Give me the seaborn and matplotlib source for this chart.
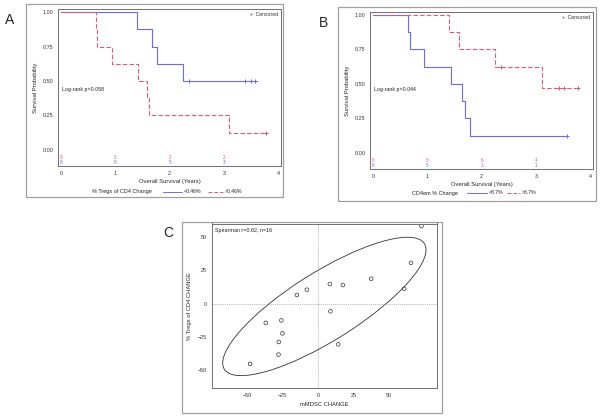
import numpy as np
import pandas as pd
import matplotlib
matplotlib.use("Agg")
import matplotlib.pyplot as plt
import seaborn as sns
from matplotlib.patches import Rectangle, Ellipse
from matplotlib.lines import Line2D

# ---- data -------------------------------------------------------------
# panel A: % Tregs of CD4 change
a_low_t = [0, 1.40, 1.68, 1.77, 2.24, 3.60]
a_low_s = [1.0, 0.875, 0.75, 0.625, 0.5, 0.5]
a_low_cens_t = [2.36, 3.39, 3.50, 3.58]
a_low_cens_s = [0.5, 0.5, 0.5, 0.5]
a_high_t = [0, 0.65, 0.67, 0.93, 1.41, 1.575, 1.62, 3.09, 3.78]
a_high_s = [1.0, 0.875, 0.75, 0.625, 0.5, 0.375, 0.25, 0.125, 0.125]
a_high_cens_t = [3.78]
a_high_cens_s = [0.125]
a_risk_low = [8, 8, 5, 3]
a_risk_high = [8, 5, 2, 2]

# panel B: CD4em % change
b_low_t = [0, 0.645, 0.675, 0.945, 1.435, 1.64, 1.69, 1.79, 3.58]
b_low_s = [1.0, 0.875, 0.75, 0.625, 0.5, 0.375, 0.25, 0.125, 0.125]
b_low_cens_t = [3.58]
b_low_cens_s = [0.125]
b_high_t = [0, 1.405, 1.577, 2.24, 3.11, 3.77]
b_high_s = [1.0, 0.875, 0.75, 0.625, 0.469, 0.469]
b_high_cens_t = [2.36, 3.42, 3.51, 3.77]
b_high_cens_s = [0.625, 0.469, 0.469, 0.469]
b_risk_low = [8, 5, 1, 1]
b_risk_high = [8, 8, 6, 4]

risk_times = [0, 1, 2, 3]

# panel C: mMDSC change vs % Tregs of CD4 change
c_x = [-48.1, -37.0, -26.0, -25.2, -27.8, -28.0, -15.0, -8.0,
       8.3, 17.5, 8.7, 14.2, 37.5, 60.8, 65.6, 73.0]
c_y = [-45.5, -14.5, -12.7, -22.5, -29.0, -38.5, 6.5, 10.5,
       14.75, 14.0, -5.75, -30.75, 18.75, 11.25, 30.75, 58.5]

BLUE = "#6b6bf0"
RED = "#e05a6e"

W, H = 603, 418


def rect(l, t, r, b):
    return [l / W, 1 - b / H, (r - l) / W, (b - t) / H]


def fx(x):
    return x / W


def fy(y):
    return 1 - y / H


sns.set_style("white")
plt.rcParams["font.family"] = ["Liberation Sans", "DejaVu Sans"]
fig = plt.figure(figsize=(W / 100, H / 100), dpi=100)


def box(l, t, r, b):
    fig.patches.append(Rectangle((fx(l), fy(b)), (r - l) / W, (b - t) / H,
                                 transform=fig.transFigure, fill=False,
                                 edgecolor="#a0a0a0", linewidth=0.9))


def style_ax(ax):
    for s in ax.spines.values():
        s.set_color("#707070")
        s.set_linewidth(0.7)
    ax.tick_params(labelsize=3.9, length=2, width=0.5, color="#707070",
                   pad=1.5, labelcolor="#333333")


def km_panel(pos, low, high, risk_low, risk_high, ptxt, ptxt_y, title, labels, leg):
    ax = fig.add_axes(pos)
    dfl = pd.DataFrame({"t": low[0], "s": low[1]})
    dfh = pd.DataFrame({"t": high[0], "s": high[1]})
    sns.lineplot(data=dfl, x="t", y="s", ax=ax, color=BLUE, lw=0.8,
                 drawstyle="steps-post", estimator=None, sort=False)
    sns.lineplot(data=dfh, x="t", y="s", ax=ax, color=RED, lw=0.8,
                 drawstyle="steps-post", estimator=None, sort=False,
                 linestyle=(0, (4, 2)))
    sns.scatterplot(x=low[2], y=low[3], ax=ax, marker="+", color=BLUE,
                    s=12, linewidth=0.7)
    sns.scatterplot(x=high[2], y=high[3], ax=ax, marker="+", color=RED,
                    s=12, linewidth=0.7)
    for t, r1, r2 in zip(risk_times, risk_high, risk_low):
        ax.text(t, -0.058, str(r1), color=RED, fontsize=3.3, ha="center", va="center")
        ax.text(t, -0.09, str(r2), color=BLUE, fontsize=3.3, ha="center", va="center")
    ax.set_xlim(-0.055, 4.05)
    ax.set_ylim(-0.118, 1.024)
    ax.set_xticks([0, 1, 2, 3, 4])
    ax.set_yticks([0, 0.25, 0.5, 0.75, 1.0])
    ax.set_yticklabels(["0.00", "0.25", "0.50", "0.75", "1.00"])
    ax.set_xlabel("Overall Survival (Years)", fontsize=4.2, labelpad=2.5)
    ax.set_ylabel("Survival Probability", fontsize=4.2, labelpad=3)
    ax.text(0.018, ptxt_y, ptxt, fontsize=3.8, transform=ax.transAxes, va="center")
    ax.text(0.985, 0.965, "+  Censored", fontsize=3.7, transform=ax.transAxes,
            ha="right", va="center", color="#333333")
    style_ax(ax)
    # legend row under the axes (pixel positions)
    y, tx, b0, b1, lb, r0, r1, lr = leg
    fig.text(fx(tx), fy(y), title, fontsize=4.0, va="center")
    fig.lines.append(Line2D([fx(b0), fx(b1)], [fy(y), fy(y)], color=BLUE, lw=0.7,
                            transform=fig.transFigure))
    fig.text(fx(lb), fy(y), labels[0], fontsize=3.7, va="center")
    fig.lines.append(Line2D([fx(r0), fx(r1)], [fy(y), fy(y)], color=RED, lw=0.7,
                            linestyle=(0, (4, 2)), transform=fig.transFigure))
    fig.text(fx(lr), fy(y), labels[1], fontsize=3.7, va="center")
    return ax


box(26, 4, 283, 197)
km_panel(rect(58, 9, 281, 166),
         (a_low_t, a_low_s, a_low_cens_t, a_low_cens_s),
         (a_high_t, a_high_s, a_high_cens_t, a_high_cens_s),
         a_risk_low, a_risk_high, "Log-rank p=0.058", 0.49,
         "% Tregs of CD4 Change", ["<0.46%", ">0.46%"],
         (192, 92, 163, 182, 184, 208, 223, 225))
fig.text(fx(5), fy(20), "A", fontsize=10, va="center")

box(338, 7, 596, 201)
km_panel(rect(370, 11.7, 593, 169),
         (b_low_t, b_low_s, b_low_cens_t, b_low_cens_s),
         (b_high_t, b_high_s, b_high_cens_t, b_high_cens_s),
         b_risk_low, b_risk_high, "Log-rank p=0.044", 0.507,
         "CD4em % Change", ["<8.7%", ">8.7%"],
         (193, 412, 467, 487, 489, 507, 520, 522))
fig.text(fx(319), fy(23), "B", fontsize=10, va="center")

# panel C
box(182, 222, 442, 413)
ax = fig.add_axes(rect(212, 223.5, 437, 388))
sns.scatterplot(x=c_x, y=c_y, ax=ax, marker="o", s=7, facecolor="none",
                edgecolor="#333333", linewidth=0.5)
# ellipse from the sample mean/covariance, scaled to match the original figure
xy = np.column_stack([c_x, c_y])
mu = xy.mean(axis=0)
cov = np.cov(xy.T)
scale = 1.88
vals, vecs = np.linalg.eigh(cov)
ang = np.degrees(np.arctan2(vecs[1, 1], vecs[0, 1]))
ax.add_patch(Ellipse(mu, 2 * scale * np.sqrt(vals[1]), 2 * scale * np.sqrt(vals[0]),
                     angle=ang, fill=False, edgecolor="#333333", lw=0.6))
ax.axhline(0, color="#999999", lw=0.5, linestyle=(0, (1.5, 1.5)))
ax.axvline(0, color="#999999", lw=0.5, linestyle=(0, (1.5, 1.5)))
ax.set_xlim(-75, 84)
ax.set_ylim(-63.75, 60.5)
ax.set_xticks([-50, -25, 0, 25, 50])
ax.set_yticks([-50, -25, 0, 25, 50])
ax.set_xlabel("mMDSC CHANGE", fontsize=4.2, labelpad=3)
ax.set_ylabel("% Tregs of CD4 CHANGE", fontsize=4.2, labelpad=4)
ax.text(0.012, 0.975, "Spearman r=0.82, n=16", fontsize=3.85,
        transform=ax.transAxes, va="top")
style_ax(ax)
fig.text(fx(163), fy(233), "C", fontsize=10, va="center")

fig.savefig("out.png", dpi=100)
